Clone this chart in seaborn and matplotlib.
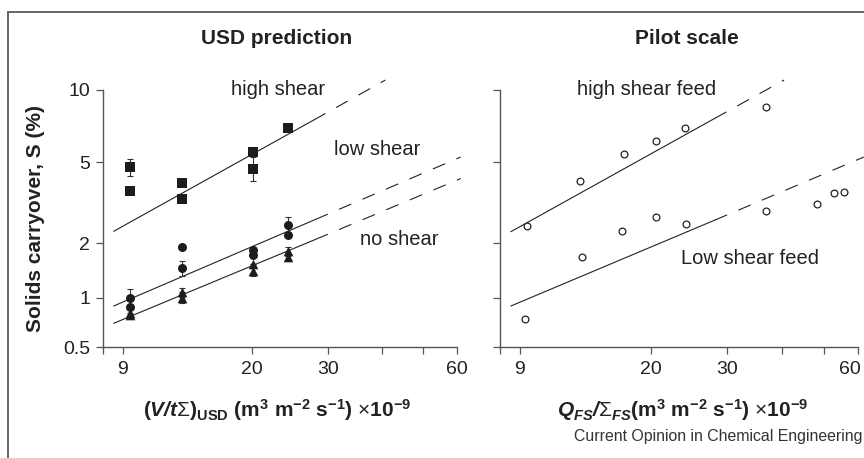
import numpy as np
import matplotlib
matplotlib.use('Agg')
import matplotlib.pyplot as plt
import seaborn as sns
from matplotlib.patches import Rectangle
from matplotlib.ticker import NullLocator
from matplotlib.transforms import ScaledTranslation

# ------------------------------------------
# data
# ------------------------------------------
# USD prediction (left panel)
usd_x_high = [10.4, 10.4, 13.7, 13.7, 20.1, 20.1, 24.2]
usd_y_high = [4.73, 3.63, 3.97, 3.29, 5.53, 4.65, 6.97]
usd_err_high = [0.45, 0, 0, 0, 0, 0.6, 0]

usd_x_low = [10.4, 10.4, 13.7, 13.7, 20.1, 20.1, 24.2, 24.2]
usd_y_low = [1.0, 0.874, 1.915, 1.454, 1.836, 1.723, 2.47, 2.19]
usd_err_low = [0.12, 0, 0, 0.14, 0.08, 0, 0.22, 0]

usd_x_none = [10.4, 10.4, 13.7, 13.7, 20.1, 20.1, 24.2, 24.2]
usd_y_none = [0.81, 0.78, 1.075, 1.0, 1.53, 1.41, 1.81, 1.69]
usd_err_none = [0.04, 0.03, 0.06, 0.07, 0, 0.09, 0.1, 0.08]

# fitted lines: solid start, solid end, dashed end
usd_fit_x_high = [9.51, 27.8, 40.8]
usd_fit_y_high = [2.29, 7.50, 11.0]
usd_fit_x_low = [9.51, 28.06, 61.1]
usd_fit_y_low = [0.890, 2.62, 5.26]
usd_fit_x_none = [9.51, 28.06, 61.1]
usd_fit_y_none = [0.699, 2.09, 4.16]

# Pilot scale (right panel)
pilot_x_high = [10.36, 13.76, 17.32, 20.55, 24.0, 36.8]
pilot_y_high = [2.43, 4.05, 5.40, 6.11, 6.92, 8.52]
pilot_x_low = [10.27, 13.87, 17.16, 20.58, 24.05, 36.94, 48.2, 52.9, 55.8]
pilot_y_low = [0.743, 1.686, 2.31, 2.69, 2.48, 2.87, 3.12, 3.52, 3.58]

pilot_fit_x_high = [9.53, 28.09, 40.55]
pilot_fit_y_high = [2.28, 7.62, 11.0]
pilot_fit_x_low = [9.53, 28.09, 61.9]
pilot_fit_y_low = [0.890, 2.60, 5.26]

# axis ticks
x_ticks = [9, 10, 20, 30, 40, 50, 60]
x_tick_labels = ['', '9', '20', '30', '', '', '60']
y_ticks = [0.5, 1, 2, 5, 10]
y_tick_labels = ['0.5', '1', '2', '5', '10']

# the printed y axis is not a clean log axis: piecewise log scale through its ticks
Y_LOG_ANCHORS = np.log10([0.05, 0.5, 1, 2, 5, 10, 100])
Y_POS_ANCHORS = [-0.6405, 0.0, 0.1928, 0.4042, 0.719, 1.0, 1.9336]


def y_fwd(v):
    v = np.clip(np.asarray(v, dtype=float), 1e-6, None)
    return np.interp(np.log10(v), Y_LOG_ANCHORS, Y_POS_ANCHORS)


def y_inv(p):
    return 10 ** np.interp(np.asarray(p, dtype=float), Y_POS_ANCHORS, Y_LOG_ANCHORS)


# ------------------------------------------
# style
# ------------------------------------------
sns.set_style('ticks')
plt.rcParams['font.family'] = ['Liberation Sans', 'DejaVu Sans']
plt.rcParams['mathtext.fontset'] = 'custom'
plt.rcParams['mathtext.rm'] = 'Liberation Sans'
plt.rcParams['mathtext.it'] = 'Liberation Sans:italic'
plt.rcParams['mathtext.bf'] = 'Liberation Sans:bold'
plt.rcParams['mathtext.bfit'] = 'Liberation Sans:italic:bold'
plt.rcParams['mathtext.sf'] = 'Liberation Sans'

INK = '#222222'
AXIS = '#555555'
MARK = '#1c1c1c'

fig = plt.figure(figsize=(8.64, 4.58), dpi=100)
ax_usd = fig.add_axes([0.1196, 0.2417, 0.4097, 0.5618])
ax_pilot = fig.add_axes([0.5787, 0.2417, 0.4144, 0.5618])


def setup_axis(ax, show_ylabels):
    ax.set_xscale('log')
    ax.set_yscale('function', functions=(y_fwd, y_inv))
    ax.set_xlim(9, 60)
    ax.set_ylim(0.5, 10)
    ax.set_xticks(x_ticks)
    ax.set_xticklabels(x_tick_labels)
    ax.set_yticks(y_ticks)
    ax.set_yticklabels(y_tick_labels)
    ax.xaxis.set_minor_locator(NullLocator())
    ax.yaxis.set_minor_locator(NullLocator())
    sns.despine(ax=ax)
    for side in ['left', 'bottom']:
        ax.spines[side].set_color(AXIS)
        ax.spines[side].set_linewidth(1.0)
    ax.tick_params(direction='out', length=4.8, width=0.9, color=AXIS,
                   labelsize=14, labelcolor=INK)
    ax.tick_params(axis='x', pad=5.4)
    ax.tick_params(axis='y', pad=4.8, labelleft=show_ylabels)


def fit_line(ax, xs, ys):
    ax.plot(xs[:2], ys[:2], color=INK, lw=0.8, clip_on=False, zorder=1)
    ax.plot(xs[1:], ys[1:], color=INK, lw=0.8, dashes=(12, 11),
            clip_on=False, zorder=1)


def filled_series(ax, xs, ys, err, marker, size):
    ax.errorbar(xs, ys, yerr=err, fmt='none', ecolor='#333333',
                elinewidth=0.8, capsize=2.5, capthick=0.8, zorder=2)
    sns.scatterplot(x=xs, y=ys, ax=ax, marker=marker, s=size, color=MARK,
                    linewidth=0, zorder=3, clip_on=False)


setup_axis(ax_usd, True)
setup_axis(ax_pilot, False)

# ---- left panel
fit_line(ax_usd, usd_fit_x_high, usd_fit_y_high)
fit_line(ax_usd, usd_fit_x_low, usd_fit_y_low)
fit_line(ax_usd, usd_fit_x_none, usd_fit_y_none)
filled_series(ax_usd, usd_x_high, usd_y_high, usd_err_high, 's', 42)
filled_series(ax_usd, usd_x_low, usd_y_low, usd_err_low, 'o', 42)
filled_series(ax_usd, usd_x_none, usd_y_none, usd_err_none, '^', 48)

ax_usd.text(22.9, 10, 'high shear', ha='center', va='center', fontsize=14.5, color=INK)
ax_usd.text(39.1, 5.63, 'low shear', ha='center', va='center', fontsize=14.5, color=INK)
ax_usd.text(44.0, 2.09, 'no shear', ha='center', va='center', fontsize=14.5, color=INK)

# ---- right panel
fit_line(ax_pilot, pilot_fit_x_high, pilot_fit_y_high)
fit_line(ax_pilot, pilot_fit_x_low, pilot_fit_y_low)
for xs, ys in [(pilot_x_high, pilot_y_high), (pilot_x_low, pilot_y_low)]:
    sns.scatterplot(x=xs, y=ys, ax=ax_pilot, marker='o', s=24,
                    facecolor='white', edgecolor=INK, linewidth=0.9, zorder=3)

ax_pilot.text(19.6, 10, 'high shear feed', ha='center', va='center', fontsize=14.5, color=INK)
ax_pilot.text(33.8, 1.652, 'Low shear feed', ha='center', va='center', fontsize=14.5, color=INK)

# the last tick label of the right panel sits a little left of its tick
last_label = ax_pilot.get_xticklabels()[-1]
last_label.set_transform(last_label.get_transform()
                         + ScaledTranslation(-8 / 100, 0, fig.dpi_scale_trans))

# ---- titles and axis labels
ax_usd.text(0.4907, 1.202, 'USD prediction', transform=ax_usd.transAxes,
            ha='center', va='center', fontsize=15, fontweight='bold', color=INK)
ax_pilot.text(0.5215, 1.202, 'Pilot scale', transform=ax_pilot.transAxes,
              ha='center', va='center', fontsize=15, fontweight='bold', color=INK)

ax_usd.set_ylabel('Solids carryover, S (%)', fontsize=15, fontweight='bold',
                  color=INK, va='center')
ax_usd.yaxis.set_label_coords(-0.191, 0.5)

ax_usd.set_xlabel(r'$\mathbf{(}\mathbfit{V/t}\mathit{\Sigma}\mathbf{)_{USD}\ (m^{3}\ m^{-2}\ s^{-1})}\ {\times}\mathbf{10^{-9}}$',
                  fontsize=15, color=INK, va='center')
ax_usd.xaxis.set_label_coords(0.49, -0.2437)
ax_pilot.set_xlabel(r'$\mathbfit{Q_{FS}/}\mathit{\Sigma}_{\mathbfit{FS}}\mathbf{(m^{3}\ m^{-2}\ s^{-1})}\ {\times}\mathbf{10^{-9}}$',
                    fontsize=15, color=INK, va='center')
ax_pilot.xaxis.set_label_coords(0.51, -0.2437)

fig.text(863 / 864, 1 - 436.7 / 458, 'Current Opinion in Chemical Engineering',
         ha='right', va='center', fontsize=11.4, color='#333333')

# frame around the figure (top and left edges visible)
fig.patches.append(Rectangle((8.3 / 864, -0.1), 1.2, 1.1 - 11.7 / 458,
                             transform=fig.transFigure, fill=False,
                             edgecolor='#666666', linewidth=1.4))

fig.savefig('out.png', dpi=100)
print('saved out.png')
